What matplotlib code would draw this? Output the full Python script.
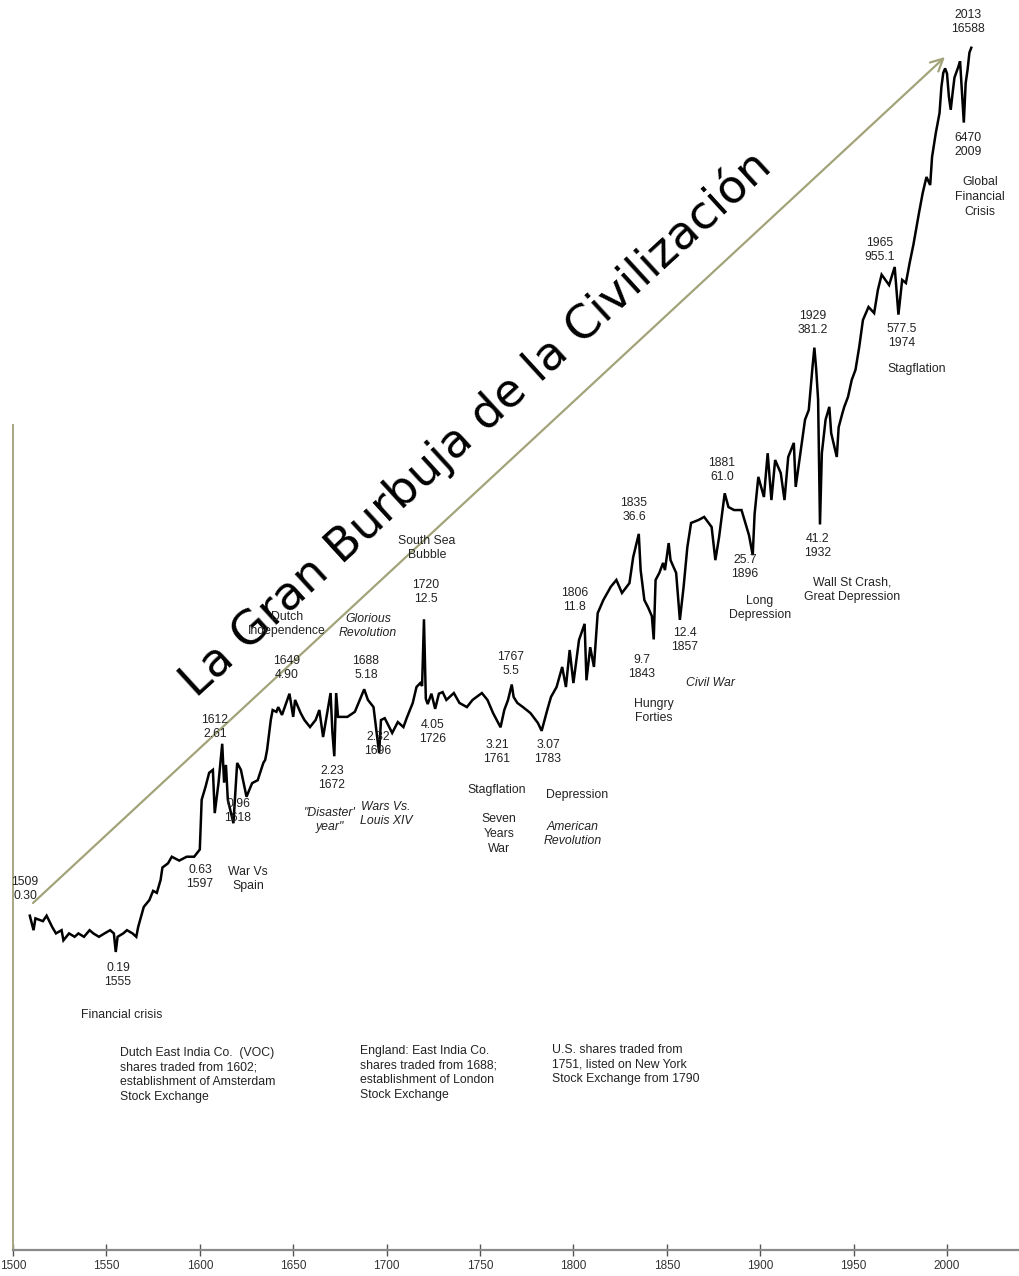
import matplotlib
matplotlib.use('Agg')
import matplotlib.pyplot as plt

plt.rcParams['font.family'] = ['Liberation Sans', 'DejaVu Sans']

# global stock index
years = [1509, 1511, 1512, 1516, 1518, 1521, 1523, 1526, 1527, 1530, 1533, 1535, 1538,
         1541, 1543, 1546, 1549, 1552, 1554, 1555, 1556, 1559, 1561, 1564, 1566, 1567,
         1570, 1573, 1575, 1577, 1579, 1580, 1583, 1585, 1589, 1593, 1597, 1600, 1601,
         1603, 1605, 1607, 1608, 1610, 1612, 1613, 1614, 1615, 1618, 1620, 1622, 1625,
         1628, 1631, 1634, 1635, 1636, 1638, 1639, 1641, 1642, 1644, 1648, 1650, 1651,
         1654, 1656, 1659, 1662, 1664, 1666, 1668, 1670, 1671, 1672, 1673, 1674, 1679,
         1683, 1688, 1690, 1693, 1696, 1697, 1699, 1703, 1706, 1709, 1711, 1714, 1716,
         1718, 1719, 1720, 1721, 1722, 1724, 1726, 1728, 1730, 1732, 1736, 1739, 1743,
         1746, 1751, 1754, 1757, 1761, 1763, 1765, 1767, 1768, 1770, 1773, 1777, 1781,
         1783, 1786, 1788, 1791, 1794, 1796, 1798, 1800, 1803, 1806, 1807, 1809, 1811,
         1813, 1816, 1820, 1823, 1826, 1830, 1832, 1835, 1836, 1838, 1840, 1842, 1843,
         1844, 1846, 1848, 1849, 1851, 1852, 1855, 1857, 1859, 1861, 1863, 1867, 1870,
         1874, 1876, 1878, 1881, 1883, 1886, 1890, 1894, 1896, 1897, 1899, 1902, 1904,
         1906, 1908, 1911, 1913, 1915, 1918, 1919, 1921, 1924, 1926, 1928, 1929, 1930,
         1931, 1932, 1933, 1935, 1937, 1938, 1941, 1942, 1944, 1945, 1947, 1949, 1951,
         1953, 1955, 1958, 1961, 1963, 1965, 1969, 1972, 1974, 1976, 1978, 1980, 1982,
         1985, 1987, 1989, 1991, 1992, 1994, 1996, 1997, 1998, 1999, 2000, 2001, 2002,
         2003, 2004, 2006, 2007, 2008, 2009, 2010, 2011, 2012, 2013]
values = [0.30, 0.25, 0.29, 0.28, 0.30, 0.26, 0.24, 0.25, 0.22, 0.24, 0.23, 0.24, 0.23,
          0.25, 0.24, 0.23, 0.24, 0.25, 0.24, 0.19, 0.23, 0.24, 0.25, 0.24, 0.23, 0.26,
          0.335, 0.365, 0.41, 0.40, 0.47, 0.55, 0.58, 0.63, 0.60, 0.63, 0.63, 0.69, 1.29,
          1.51, 1.81, 1.88, 1.09, 1.59, 2.61, 1.60, 2.0, 1.29, 0.96, 2.05, 1.88, 1.34,
          1.59, 1.65, 2.05, 2.13, 2.41, 3.52, 3.99, 3.9, 4.14, 3.75, 4.90, 3.66, 4.53,
          3.84, 3.52, 3.22, 3.52, 3.99, 2.84, 3.75, 4.94, 3.0, 2.23, 4.94, 3.66, 3.66,
          3.9, 5.18, 4.53, 4.14, 2.32, 3.52, 3.6, 2.99, 3.43, 3.22, 3.66, 4.36, 5.33,
          5.6, 5.4, 12.5, 4.6, 4.3, 4.9, 4.05, 4.9, 5.0, 4.53, 4.94, 4.36, 4.14,
          4.53, 4.94, 4.53, 3.84, 3.21, 3.99, 4.53, 5.5, 4.70, 4.36, 4.14, 3.84, 3.39,
          3.07, 3.99, 4.70, 5.33, 6.86, 5.33, 8.49, 5.6, 9.63, 11.8, 5.8, 8.8, 6.86,
          13.5, 15.9, 18.8, 20.5, 17.4, 19.7, 27.3, 36.6, 23.2, 15.9, 14.5, 13.0, 9.7,
          20.5, 22.4, 25.4, 23.2, 32.6, 26.3, 22.4, 12.4, 18.8, 31.0, 42.0, 43.6, 45.3,
          39.9, 26.3, 35.2, 61.0, 51.3, 49.4, 49.4, 36.0, 28.0, 47.0, 75.0, 58.2, 101,
          56.0, 92.7, 78.7, 56.0, 96.3, 115, 66.1, 92.7, 154, 174, 299, 381.2, 288,
          198, 41.2, 101, 154, 181, 130, 96.3, 140, 167, 181, 205, 254, 288,
          384, 540, 636, 589, 788, 955.1, 838, 1052, 577.5, 894, 860, 1106, 1390,
          2075, 2670, 3264, 2950, 4198, 5675, 7295, 10120, 12100, 12800, 12000, 9000, 7600,
          9390, 11400, 13000, 14000, 9500, 6470, 10650, 12560, 15600, 16588]

x_ticks = [1500, 1550, 1600, 1650, 1700, 1750, 1800, 1850, 1900, 1950, 2000]

# (text, x px, y px, italic)
notes = [
    ('1509\n0.30', 25, 889, False),
    ('0.19\n1555', 118, 975, False),
    ('Financial crisis', 122, 1015, False),
    ('0.63\n1597', 200, 877, False),
    ('War Vs\nSpain', 248, 879, False),
    ('1612\n2.61', 215, 727, False),
    ('0.96\n1618', 238, 811, False),
    ('Dutch\nIndependence', 287, 624, False),
    ('1649\n4.90', 287, 668, False),
    ('2.23\n1672', 332, 778, False),
    ('"Disaster\'\nyear"', 330, 820, True),
    ('Glorious\nRevolution', 368, 626, True),
    ('1688\n5.18', 366, 668, False),
    ('2.32\n1696', 378, 744, False),
    ('Wars Vs.\nLouis XIV', 386, 814, True),
    ('South Sea\nBubble', 427, 548, False),
    ('1720\n12.5', 426, 592, False),
    ('4.05\n1726', 433, 732, False),
    ('1767\n5.5', 511, 664, False),
    ('3.21\n1761', 497, 752, False),
    ('Stagflation', 497, 790, False),
    ('Seven\nYears\nWar', 499, 834, False),
    ('3.07\n1783', 548, 752, False),
    ('Depression', 577, 795, False),
    ('American\nRevolution', 573, 834, True),
    ('1806\n11.8', 575, 600, False),
    ('1835\n36.6', 634, 510, False),
    ('9.7\n1843', 642, 667, False),
    ('Hungry\nForties', 654, 711, False),
    ('12.4\n1857', 685, 640, False),
    ('Civil War', 711, 683, True),
    ('1881\n61.0', 722, 470, False),
    ('25.7\n1896', 745, 567, False),
    ('Long\nDepression', 760, 608, False),
    ('1929\n381.2', 813, 323, False),
    ('41.2\n1932', 818, 546, False),
    ('Wall St Crash,\nGreat Depression', 852, 590, False),
    ('1965\n955.1', 880, 250, False),
    ('577.5\n1974', 902, 336, False),
    ('Stagflation', 917, 369, False),
    ('2013\n16588', 968, 22, False),
    ('6470\n2009', 968, 145, False),
    ('Global\nFinancial\nCrisis', 980, 197, False),
]

boxes = [
    ('Dutch East India Co.  (VOC)\nshares traded from 1602;\nestablishment of Amsterdam\nStock Exchange', 120, 1047),
    ('England: East India Co.\nshares traded from 1688;\nestablishment of London\nStock Exchange', 360, 1045),
    ('U.S. shares traded from\n1751, listed on New York\nStock Exchange from 1790', 552, 1044),
]

W, H = 1019, 1276
axis_y = 1250


def val(ypx):
    return 10 ** ((820 - ypx) / 183)


fig = plt.figure(figsize=(W / 100, H / 100), dpi=100)
ax = fig.add_axes([13 / W, (H - axis_y) / H, 1 - 13 / W, axis_y / H])
ax.set_yscale('log')
ax.plot(years, values, color='black', lw=1.8, solid_joinstyle='miter')
ax.set_xlim(1500, 1500 + (W - 13) / 1.868)
ax.set_ylim(val(axis_y), val(0))

ax.spines['top'].set_visible(False)
ax.spines['right'].set_visible(False)
ax.spines['bottom'].set_color('#8a8a8a')
ax.spines['bottom'].set_linewidth(1.6)
ax.spines['left'].set_color('#a6a682')
ax.spines['left'].set_linewidth(1.4)
ax.spines['left'].set_bounds(val(axis_y), val(425))
ax.set_yticks([])
ax.minorticks_off()
ax.set_xticks(x_ticks)
ax.tick_params(axis='x', direction='inout', length=9, width=1, color='#555555',
               labelsize=8.5, labelcolor='#333333', pad=3)

# arrow from the 1509 start to the 2013 top
ax.annotate('', xy=(1998.9, val(57)), xytext=(1510.7, val(903)),
            arrowprops=dict(arrowstyle='->', color='#a3a37a', lw=1.6,
                            mutation_scale=22, shrinkA=0, shrinkB=0))

fig.text(476 / W, 1 - 424 / H, 'La Gran Burbuja de la Civilización', fontsize=33.5,
         family=['DejaVu Sans'], rotation=42.5, rotation_mode='anchor',
         ha='center', va='center', color='black')

for txt, x, y, it in notes:
    fig.text(x / W, 1 - y / H, txt, fontsize=8.8, ha='center', va='center',
             linespacing=1.3, color='#222222', style='italic' if it else 'normal')

for txt, x, y in boxes:
    fig.text(x / W, 1 - y / H, txt, fontsize=8.8, ha='left', va='top',
             linespacing=1.3, color='#222222')

plt.savefig('out.png', dpi=100)
